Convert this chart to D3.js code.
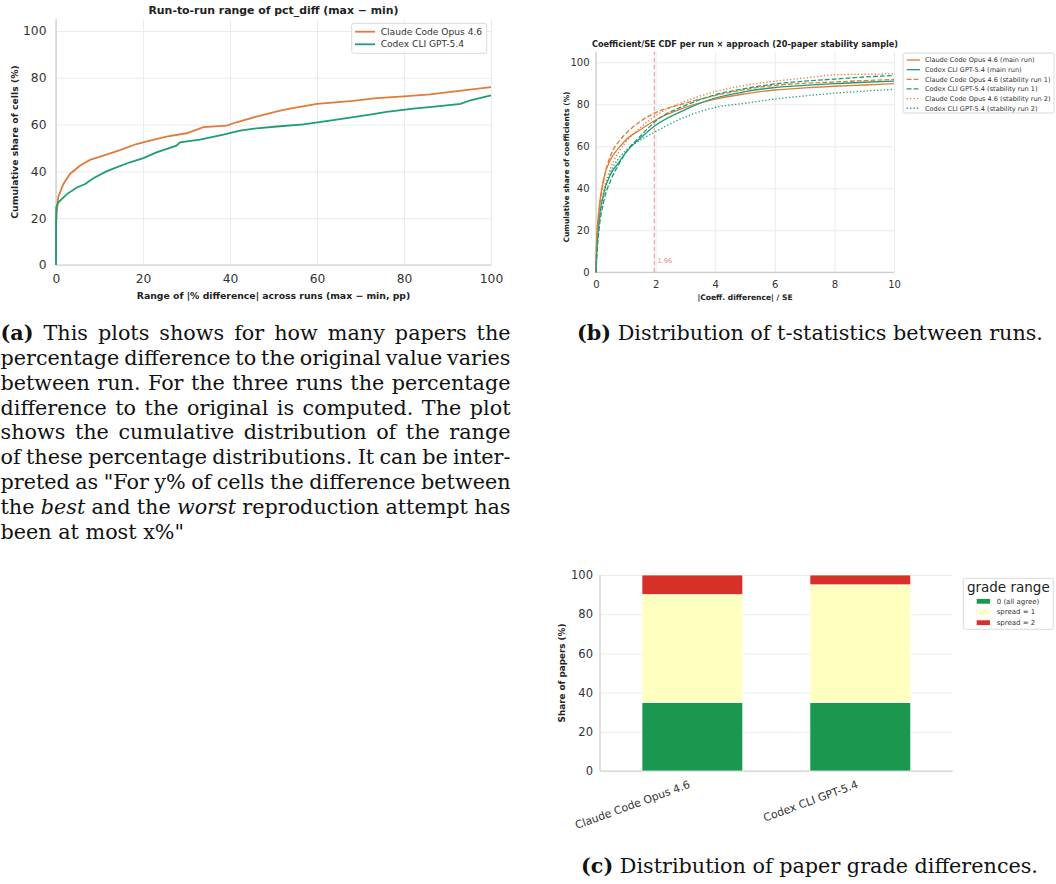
<!DOCTYPE html>
<html>
<head>
<meta charset="utf-8">
<script src="https://cdn.jsdelivr.net/npm/d3@7"></script>
<style>
  body { margin: 0; background: #fff; }
  svg { display: block; }
</style>
</head>
<body>
<svg id="fig" width="1056" height="884"></svg>
<script>
// (a) run-to-run range of pct_diff
const claudeRangeX = [0, 0.02, 0.15, 0.5, 1.7, 3.2, 5.5, 7.8, 10.9, 14.7, 18.5, 21.6, 25.4, 30, 33.9, 39.2, 41.5, 46.1, 51.5, 53.8, 60, 68.3, 73.7, 80, 86, 92.2, 100];
const claudeRangeY = [0, 18, 22, 29, 34.6, 38.9, 42.4, 44.9, 46.7, 49.1, 51.7, 53.1, 54.9, 56.3, 58.9, 59.6, 61, 63.4, 66, 66.8, 68.9, 70.1, 71.3, 72.1, 72.9, 74.3, 76];
const codexRangeX = [0, 0.05, 0.5, 2.5, 4.8, 6.7, 8.6, 11.6, 13.9, 17, 20.1, 23.1, 27.7, 28.5, 33.1, 38.5, 42.3, 46.1, 51.5, 56.9, 64.5, 72.2, 76, 82.2, 87.6, 93, 95.3, 100];
const codexRangeY = [0, 24.6, 26.7, 30.3, 33.1, 34.6, 37.1, 40, 41.7, 43.9, 45.7, 48.1, 51, 52.4, 53.6, 55.7, 57.4, 58.4, 59.3, 60.1, 62.1, 64.3, 65.4, 66.8, 67.8, 68.9, 70.4, 72.5];
const rangeTicks = [0, 20, 40, 60, 80, 100];

// (b) |coef diff| / SE CDFs, six runs
const seGrid = [0, 0.02, 0.1, 0.25, 0.5, 0.75, 1, 1.5, 2, 3, 4, 5, 6, 7, 8, 9, 10];
const claudeMain = [0, 15, 30, 44, 54, 59, 63, 68, 72.5, 78.5, 82.5, 85, 86.8, 87.8, 88.6, 89.2, 89.8];
const codexMain  = [0, 8, 24, 37, 47, 52, 57, 64, 70, 77.5, 83, 86, 88, 89, 89.8, 90.5, 91];
const claudeRun1 = [0, 13, 28, 43, 56, 62, 66, 72, 76, 80.5, 84.2, 87, 89, 90, 90.6, 91.3, 91.8];
const codexRun1  = [0, 6, 20, 33, 44, 51, 57, 65, 72, 79.5, 84.5, 87.5, 89.7, 91, 92, 93, 93.7];
const claudeRun2 = [0, 12, 25, 38, 50, 57, 62, 69, 74.5, 81.5, 86, 89, 91, 92.5, 94, 94.3, 94.5];
const codexRun2  = [0, 7, 22, 36, 48, 54, 58, 63, 67, 74, 78.5, 80.5, 82.5, 84, 85.3, 86.3, 87.1];
const seTicks = [0, 2, 4, 6, 8, 10];
const shareTicks = [0, 20, 40, 60, 80, 100];
const critValue = 1.96;

// (c) grade spread per model
const models = ["Claude Code Opus 4.6", "Codex CLI GPT-5.4"];
const gradeKeys = ["0 (all agree)", "spread = 1", "spread = 2"];
const allAgree = [35, 35];
const spreadOne = [55, 60];
const spreadTwo = [10, 5];

const SANS = "DejaVu Sans, sans-serif";
const SERIF = "DejaVu Serif, serif";
const GRID = "#ebebeb", SPINE = "#cccccc", INK = "#333333";
const ORANGE = "#e07b39", GREEN = "#1b9e77";

const svg = d3.select("#fig");

function frame(g, x, y, o) {
  const [yb, yt] = y.range(), [xl, xr] = x.range();
  g.append("g").attr("transform", `translate(${xl},0)`)
    .call(d3.axisLeft(y).tickValues(o.yTicks).tickSize(-(xr - xl)).tickFormat(""))
    .call(a => a.select(".domain").remove())
    .selectAll("line").attr("stroke", GRID);
  if (o.xGrid) {
    g.append("g").attr("transform", `translate(0,${yb})`)
      .call(d3.axisBottom(x).tickValues(o.xTicks).tickSize(-(yb - yt)).tickFormat(""))
      .call(a => a.select(".domain").remove())
      .selectAll("line").attr("stroke", GRID);
  }
  g.append("line").attr("x1", xl).attr("x2", xl).attr("y1", yb).attr("y2", yt)
    .attr("stroke", SPINE).attr("stroke-width", 1.2);
  g.append("line").attr("x1", xl).attr("x2", xr).attr("y1", yb).attr("y2", yb)
    .attr("stroke", SPINE).attr("stroke-width", 1.2);
  g.append("g").attr("transform", `translate(${xl},0)`)
    .call(d3.axisLeft(y).tickValues(o.yTicks).tickSize(0).tickPadding(o.yPad))
    .call(a => a.select(".domain").remove())
    .attr("font-family", SANS).attr("font-size", o.fs).attr("color", INK);
  return g.append("g").attr("transform", `translate(0,${yb})`)
    .call(d3.axisBottom(x).tickValues(o.xTicks).tickSize(0).tickPadding(o.xPad))
    .call(a => a.select(".domain").remove())
    .attr("font-family", SANS).attr("font-size", o.fs).attr("color", INK);
}

function label(g, txt, x, y, fs, rot) {
  return g.append("text").attr("transform", `translate(${x},${y})` + (rot ? " rotate(-90)" : ""))
    .attr("text-anchor", "middle").attr("font-family", SANS).attr("font-weight", "bold")
    .attr("font-size", fs).attr("fill", "#222").text(txt);
}

function legendBox(g, x, y, w, h) {
  g.append("rect").attr("x", x).attr("y", y).attr("width", w).attr("height", h)
    .attr("rx", 2).attr("fill", "#fff").attr("fill-opacity", 0.85)
    .attr("stroke", "#d0d0d0").attr("stroke-width", 0.8);
}

// ---------- (a) ----------
{
  const g = svg.append("g");
  const x = d3.scaleLinear().domain([0, 100]).range([56, 491]);
  const y = d3.scaleLinear().domain([0, 105]).range([265, 19.3]);
  frame(g, x, y, { xTicks: rangeTicks, yTicks: rangeTicks, xGrid: true, fs: 12.3, yPad: 9.5, xPad: 9.5 });

  const line = d3.line().x(d => x(d[0])).y(d => y(d[1]));
  const series = [
    { name: "Claude Code Opus 4.6", color: ORANGE, pts: d3.zip(claudeRangeX, claudeRangeY) },
    { name: "Codex CLI GPT-5.4", color: GREEN, pts: d3.zip(codexRangeX, codexRangeY) }
  ];
  g.selectAll("path.cdf").data(series).join("path").attr("class", "cdf")
    .attr("d", d => line(d.pts)).attr("fill", "none")
    .attr("stroke", d => d.color).attr("stroke-width", 1.8);

  g.append("text").attr("x", 273.5).attr("y", 14).attr("text-anchor", "middle")
    .attr("font-family", SANS).attr("font-weight", "bold").attr("font-size", 10.9)
    .attr("fill", "#222").text("Run-to-run range of pct_diff (max \u2212 min)");
  label(g, "Range of |% difference| across runs (max \u2212 min, pp)", 273.5, 298.5, 9.3, false);
  label(g, "Cumulative share of cells (%)", 17.5, 142, 9.3, true);

  legendBox(g, 351.7, 23.3, 135, 30);
  const lg = g.selectAll("g.lg").data(series).join("g").attr("class", "lg")
    .attr("transform", (d, i) => `translate(355,${31.7 + i * 12.6})`);
  lg.append("line").attr("x1", 0).attr("x2", 20).attr("stroke", d => d.color).attr("stroke-width", 1.8);
  lg.append("text").attr("x", 25.7).attr("dy", "0.35em").attr("font-family", SANS)
    .attr("font-size", 9.1).attr("fill", INK).text(d => d.name);
}

// ---------- (b) ----------
{
  const g = svg.append("g");
  const x = d3.scaleLinear().domain([0, 10]).range([596, 894]);
  const y = d3.scaleLinear().domain([0, 105]).range([272.3, 51.8]);
  frame(g, x, y, { xTicks: seTicks, yTicks: shareTicks, xGrid: true, fs: 10, yPad: 6.5, xPad: 8.5 });

  g.append("line").attr("x1", x(critValue)).attr("x2", x(critValue))
    .attr("y1", y.range()[0]).attr("y2", y.range()[1])
    .attr("stroke", "#f4a6ac").attr("stroke-width", 1.3).attr("stroke-dasharray", "4.5,2.5");
  g.append("text").attr("x", x(critValue) + 3).attr("y", 262.5)
    .attr("font-family", SANS).attr("font-size", 6.6).attr("fill", "#ee8a90").text("1.96");

  const runs = [
    { name: "Claude Code Opus 4.6 (main run)", color: ORANGE, dash: null, v: claudeMain },
    { name: "Codex CLI GPT-5.4 (main run)", color: GREEN, dash: null, v: codexMain },
    { name: "Claude Code Opus 4.6 (stability run 1)", color: ORANGE, dash: "4.8,2.1", v: claudeRun1 },
    { name: "Codex CLI GPT-5.4 (stability run 1)", color: GREEN, dash: "4.8,2.1", v: codexRun1 },
    { name: "Claude Code Opus 4.6 (stability run 2)", color: ORANGE, dash: "1.3,2.1", v: claudeRun2 },
    { name: "Codex CLI GPT-5.4 (stability run 2)", color: GREEN, dash: "1.3,2.1", v: codexRun2 }
  ];
  const line = d3.line().curve(d3.curveMonotoneX).x((d, i) => x(seGrid[i])).y(d => y(d));
  g.selectAll("path.run").data(runs).join("path").attr("class", "run")
    .attr("d", d => line(d.v)).attr("fill", "none")
    .attr("stroke", d => d.color).attr("stroke-width", 1.3)
    .attr("stroke-dasharray", d => d.dash);

  g.append("text").attr("x", 745).attr("y", 46.7).attr("text-anchor", "middle")
    .attr("font-family", SANS).attr("font-weight", "bold").attr("font-size", 8.2)
    .attr("fill", "#222").text("Coefficient/SE CDF per run \u00d7 approach (20-paper stability sample)");
  label(g, "|Coeff. difference| / SE", 745, 299.5, 7.6, false);
  label(g, "Cumulative share of coefficients (%)", 569, 167, 7.4, true);

  legendBox(g, 903, 53, 151, 60);
  const lg = g.selectAll("g.lg").data(runs).join("g").attr("class", "lg")
    .attr("transform", (d, i) => `translate(906.7,${60 + i * 9.65})`);
  lg.append("line").attr("x1", 0).attr("x2", 13.3).attr("stroke", d => d.color)
    .attr("stroke-width", 1.3).attr("stroke-dasharray", d => d.dash);
  lg.append("text").attr("x", 18.3).attr("dy", "0.35em").attr("font-family", SANS)
    .attr("font-size", 6.55).attr("fill", INK).text(d => d.name);
}

// ---------- (c) ----------
{
  const g = svg.append("g");
  const x = d3.scaleLinear().domain([-0.55, 1.55]).range([600, 952.7]);
  const y = d3.scaleLinear().domain([0, 100]).range([771, 575]);
  const xa = frame(g, x, y, { xTicks: [0, 1], yTicks: shareTicks, xGrid: false, fs: 11.5, yPad: 7, xPad: 0 });
  xa.selectAll("text").text(i => models[i])
    .attr("dy", null).attr("x", -2).attr("y", 16.5)
    .attr("transform", "rotate(-20 -2 16.5)").attr("text-anchor", "end").attr("font-size", 10.9);

  const colors = ["#1a9850", "#ffffbf", "#d73027"];
  const rows = models.map((m, i) => ({ i, a: allAgree[i], s1: spreadOne[i], s2: spreadTwo[i] }));
  const stack = d3.stack().keys(["a", "s1", "s2"])(rows);
  const bw = x(0.3) - x(-0.3);
  g.append("g").selectAll("g").data(stack).join("g").attr("fill", (d, k) => colors[k])
    .selectAll("rect").data(d => d).join("rect")
    .attr("x", d => x(d.data.i) - bw / 2).attr("width", bw)
    .attr("y", d => y(d[1])).attr("height", d => y(d[0]) - y(d[1]))
    .attr("stroke", "#fff").attr("stroke-width", 0.7);

  label(g, "Share of papers (%)", 564.5, 673, 8.8, true);

  legendBox(g, 963.3, 578.3, 90, 51);
  g.append("text").attr("x", 1008.3).attr("y", 591.5).attr("text-anchor", "middle")
    .attr("font-family", SANS).attr("font-size", 13.5).attr("fill", "#222").text("grade range");
  const lg = g.selectAll("g.lg").data(gradeKeys).join("g").attr("class", "lg")
    .attr("transform", (d, i) => `translate(976.7,${601.3 + i * 10.7})`);
  lg.append("rect").attr("y", -2.4).attr("width", 13.3).attr("height", 4.8)
    .attr("fill", (d, i) => colors[i]);
  lg.append("text").attr("x", 20).attr("dy", "0.35em").attr("font-family", SANS)
    .attr("font-size", 7).attr("fill", INK).text(d => d);
}

// ---------- captions ----------
const capA = [
  [["(a)", "b"], [" This plots shows for how many papers the"]],
  [["percentage difference to the original value varies"]],
  [["between run. For the three runs the percentage"]],
  [["difference to the original is computed. The plot"]],
  [["shows the cumulative distribution of the range"]],
  [["of these percentage distributions. It can be inter-"]],
  [["preted as \"For y% of cells the difference between"]],
  [["the "], ["best", "i"], [" and the "], ["worst", "i"], [" reproduction attempt has"]],
  [["been at most x%\""]]
];
const capB = [["(b)", "b"], [" Distribution of t-statistics between runs."]];
const capC = [["(c)", "b"], [" Distribution of paper grade differences."]];

function caption(parts, x, y, fs, w) {
  const t = svg.append("text").attr("x", x).attr("y", y).attr("font-family", SERIF)
    .attr("font-size", fs).attr("fill", "#111").attr("xml:space", "preserve");
  parts.forEach(([s, f]) => {
    t.append("tspan").text(s)
      .attr("font-weight", f === "b" ? "bold" : null)
      .attr("font-style", f === "i" ? "italic" : null);
  });
  if (w) {
    // justify like TeX: stretch only the word spaces
    const natural = t.node().getComputedTextLength();
    const gaps = (parts.map(p => p[0]).join("").match(/ /g) || []).length;
    t.attr("word-spacing", (w - natural) / gaps);
  }
  return t;
}
// size the serif so caption (b) spans the same width as in the figure
const probe = caption(capB, 577, 340, 20, null);
const capSize = 20 * 466 / probe.node().getComputedTextLength();
probe.attr("font-size", capSize);
caption(capC, 581, 873, capSize, null);
capA.forEach((parts, k) => caption(parts, 0.5, 340 + k * 24.85, capSize, k < capA.length - 1 ? 510 : null));
</script>
</body>
</html>
